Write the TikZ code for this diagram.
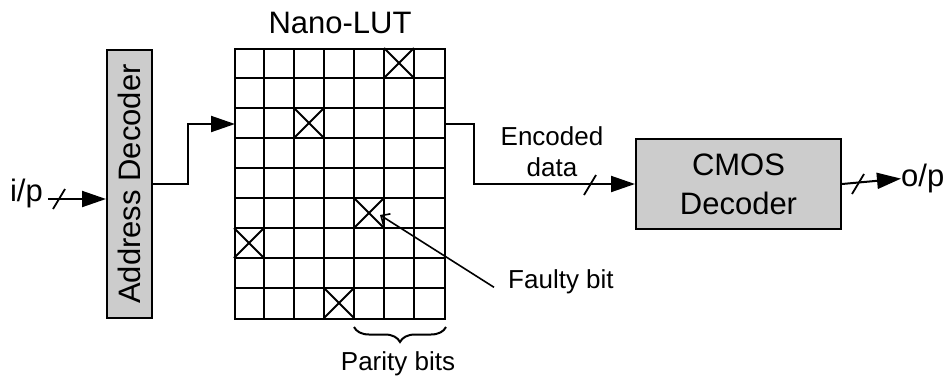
\documentclass[tikz,border=0pt]{standalone}
\usepackage{fontspec}
\setmainfont{Liberation Sans}
\usetikzlibrary{arrows.meta,decorations.pathreplacing,calc}
\definecolor{boxgrey}{RGB}{204,204,204}

\begin{document}
\begin{tikzpicture}[x=1pt,y=-1pt,
  big/.style={font=\fontsize{31}{39}\selectfont},
  small/.style={font=\fontsize{26}{31}\selectfont},
  block/.style={draw, line width=2pt, fill=boxgrey, inner sep=0pt},
  wire/.style={line width=2pt},
  sig/.style={wire, -{Triangle[length=24pt,width=16pt]}},
  cellline/.style={line width=2pt},
  crossline/.style={line width=1.8pt},
  leader/.style={line width=1.6pt, -{Straight Barb[length=7pt,width=13pt,line width=1.6pt]}},
  busslash/.pic={\draw[line width=1.8pt] (-6,10) -- (6,-10);}
]
\useasboundingbox (0,0) rectangle (946,376);

% blocks
\node[block, minimum width=45pt, minimum height=268pt] (addr) at (129.5,184) {};
\node[big, rotate=90] at (addr.center) {Address Decoder};
\node[block, minimum width=205pt, minimum height=90pt, big, align=center] (cmos) at (738.5,184) {CMOS\\Decoder};

% Nano-LUT memory array: 7 columns x 9 rows of 30pt cells
\def\cw{30}
\def\ch{30}
\node[draw, cellline, inner sep=0pt, minimum width=210pt, minimum height=270pt] (lut) at (340,184) {};
\foreach \i in {1,...,6}
  \draw[cellline] ($(lut.north west)+(\i*\cw,0)$) -- ($(lut.south west)+(\i*\cw,0)$);
\foreach \j in {1,...,8}
  \draw[cellline] ($(lut.north west)+(0,\j*\ch)$) -- ($(lut.north east)+(0,\j*\ch)$);
\foreach \c/\r in {5/0,2/2,4/5,0/6,3/8} {
  \draw[crossline] ($(lut.north west)+(\c*\cw,\r*\ch)$) -- ++(\cw,\ch);
  \draw[crossline] ($(lut.north west)+(\c*\cw+\cw,\r*\ch)$) -- ++(-\cw,\ch);
}
\node[big, anchor=base] (luttitle) at (340,33) {Nano-LUT};

% input side
\node[big, anchor=mid east, inner sep=0pt] (ip) at (43,199) {i/p};
\coordinate (inpt) at (48,199);
\draw[sig] (inpt) -- (inpt -| addr.west);
\pic at (59,199) {busslash};

% decoder to array
\coordinate (lutin) at (235,124);
\draw[sig] (addr.east) -- ++(35,0) |- (lutin);

% array to CMOS decoder
\coordinate (lutout) at (445,124);
\draw[sig] (lutout) -- (474,124) |- (cmos.west);
\pic at (590,185) {busslash};
\node[small, align=center] (enc) at (552,152) {Encoded\\data};

% output side
\node[big, anchor=mid west, inner sep=0pt] (op) at (901,184) {o/p};
\draw[sig] (cmos.east) -- (op.west);
\pic at (858,184) {busslash};

% faulty bit callout
\node[small, anchor=base west, inner sep=0pt] (fb) at (508,288) {Faulty bit};
\coordinate (faulty) at (380,215);
\draw[leader] ([xshift=-14pt,yshift=-6pt]fb.west) -- (faulty);

% parity bits brace
\coordinate (pl) at ($(lut.south west)+(4*\cw,7)$);
\coordinate (pr) at ($(lut.south east)+(0,7)$);
\draw[line width=2pt, decorate, decoration={brace, mirror, amplitude=15pt}] (pl) -- (pr);
\node[small, anchor=base] (par) at (398,370) {Parity bits};
\end{tikzpicture}
\end{document}
